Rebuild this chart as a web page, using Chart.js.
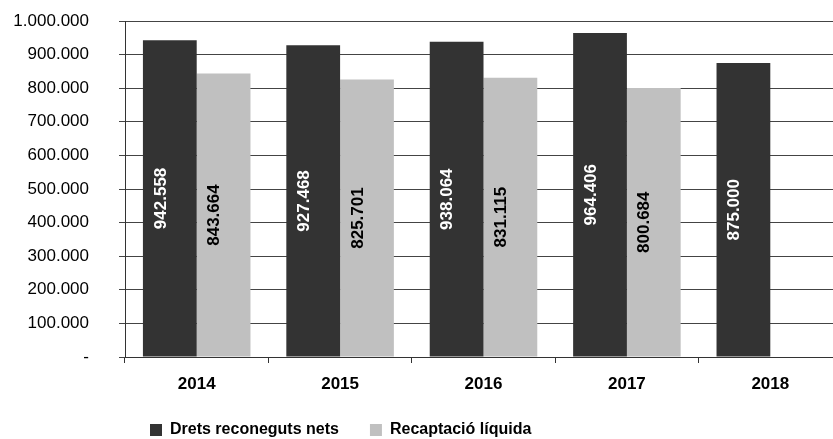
<!DOCTYPE html>
<html>
<head>
<meta charset="utf-8">
<script src="https://cdn.jsdelivr.net/npm/chart.js@4"></script>
<style>
  html, body { margin: 0; padding: 0; background: #fff; overflow: hidden; }
  #wrap { position: relative; width: 842px; height: 448px; }
</style>
</head>
<body>
<div id="wrap"><canvas id="chartJScanvas"></canvas></div>
<script>
  var years = ['2014', '2015', '2016', '2017', '2018'];
  var drets = [942558, 927468, 938064, 964406, 875000];
  var recaptacio = [843664, 825701, 831115, 800684, null];
  var series_names = ['Drets reconeguts nets', 'Recaptació líquida'];
  var y_max = 1000000;
  var y_step = 100000;

  var fam = '"Liberation Sans", Arial, sans-serif';

  // 1.000.000 style, and "-" for zero
  function miles(num) {
    if (num === 0) return '-';
    return String(Math.round(num)).replace(/\B(?=(\d{3})+(?!\d))/g, '.');
  }

  // vertical value labels inside the bars
  var barLabels = {
    id: 'barLabels',
    afterDatasetsDraw: function(chart) {
      var ctx = chart.ctx;
      chart.data.datasets.forEach(function(ds, i) {
        var meta = chart.getDatasetMeta(i);
        meta.data.forEach(function(bar, j) {
          var v = ds.data[j];
          if (v == null) return;
          ctx.save();
          ctx.translate(bar.x - 9, (bar.y + bar.base) / 2);
          ctx.rotate(-Math.PI / 2);
          ctx.font = 'bold 17px ' + fam;
          ctx.fillStyle = ds.labelColor;
          ctx.textAlign = 'center';
          ctx.textBaseline = 'middle';
          ctx.fillText(miles(v), 0, 0);
          ctx.restore();
        });
      });
    }
  };

  // legend sits left of centre in the original
  var legendShift = {
    id: 'legendShift',
    afterLayout: function(chart) {
      var lg = chart.legend;
      var pad = lg.options.labels.padding;
      lg.left = 150 - pad;
      lg.right = lg.left + 800;
    }
  };

  var ctx = document.getElementById('chartJScanvas').getContext('2d');
  var chartJSchart = new Chart(ctx, {
    type: 'bar',
    data: {
      labels: years,
      datasets: [{
        label: series_names[0],
        data: drets,
        backgroundColor: '#333333',
        labelColor: '#ffffff',
        categoryPercentage: 0.75,
        barPercentage: 1.0
      }, {
        label: series_names[1],
        data: recaptacio,
        backgroundColor: '#c0c0c0',
        labelColor: '#000000',
        categoryPercentage: 0.75,
        barPercentage: 1.0
      }]
    },
    options: {
      animation: false,
      responsive: true,
      maintainAspectRatio: false,
      layout: { padding: { top: 21, left: 0, right: 0, bottom: 0 } },
      plugins: {
        tooltip: { enabled: false },
        legend: {
          position: 'bottom',
          align: 'start',
          labels: {
            color: '#000',
            font: { family: fam, size: 16, weight: 'bold' },
            boxWidth: 12,
            boxHeight: 12,
            padding: 31
          }
        }
      },
      scales: {
        x: {
          grid: { display: true, drawOnChartArea: false, drawTicks: true, tickLength: 6, color: '#333' },
          border: { display: true, color: '#333', width: 1 },
          ticks: { color: '#000', padding: 11, font: { family: fam, size: 17, weight: 'bold' } },
          afterFit: function(s) { s.height = 34; }
        },
        y: {
          min: 0,
          max: y_max,
          grid: { color: '#444', tickLength: 6, drawTicks: true },
          border: { display: true, color: '#333', width: 1 },
          ticks: {
            stepSize: y_step,
            padding: 30,
            color: '#000',
            font: { family: fam, size: 17 },
            callback: function(v) { return miles(v); }
          },
          afterFit: function(s) {
            s.width = 125;
            s.paddingTop = 0;
            s.paddingBottom = 0;
          }
        }
      }
    },
    plugins: [barLabels, legendShift]
  });
</script>
</body>
</html>
